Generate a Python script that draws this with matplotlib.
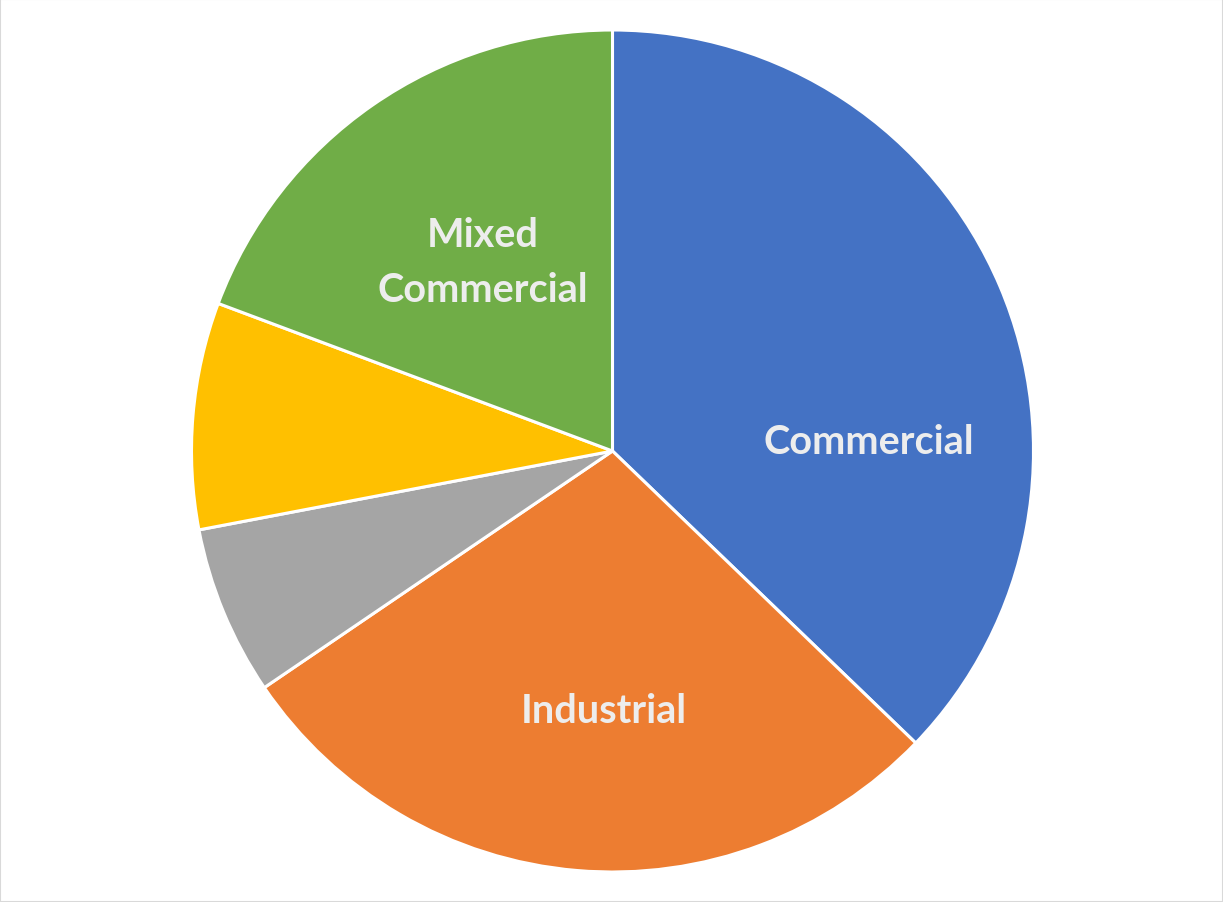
import numpy as np
import matplotlib.pyplot as plt
from matplotlib.patches import Rectangle

# Slice data, clockwise from 12 o'clock
categories = ["Commercial", "Industrial", "Other A", "Other B", "Mixed\nCommercial"]
shares = [37.2, 28.3, 6.5, 8.7, 19.3]
colors = ["#4472C4", "#ED7D31", "#A5A5A5", "#FFC000", "#70AD47"]
show_label = [True, True, False, False, True]

# label positions (fraction of radius, angle in degrees)
label_r = [0.61, 0.616, 0, 0, 0.545]
label_ang = [2.1, -92.0, 0, 0, 124.5]

fig = plt.figure(figsize=(12.23, 9.03), dpi=100)
ax = fig.add_axes([0, 0, 1, 1])

wedges, _ = ax.pie(shares, colors=colors, startangle=90, counterclock=False,
                   radius=1.0, center=(0, 0),
                   wedgeprops=dict(edgecolor="white", linewidth=2.2))

for name, show, r, a in zip(categories, show_label, label_r, label_ang):
    if not show:
        continue
    t = np.deg2rad(a)
    ax.text(r * np.cos(t), r * np.sin(t), name, ha="center", va="center",
            fontsize=28.5, fontweight="bold", family="Lato", color="#EDEDED",
            linespacing=1.6)

# keep the pie centered at (612, 452) px with radius ~421 px
W, H = 1223, 903
cx, cy, rad = 612.5, 452, 421
ax.set_xlim(-cx / rad, (W - cx) / rad)
ax.set_ylim(-(H - cy) / rad, cy / rad)
ax.set_aspect("auto")
ax.axis("off")

fig.patches.append(Rectangle((0, 0), 1, 1, transform=fig.transFigure,
                             fill=False, edgecolor="#D9D9D9", linewidth=1.5))

fig.savefig("out.png", dpi=100)
